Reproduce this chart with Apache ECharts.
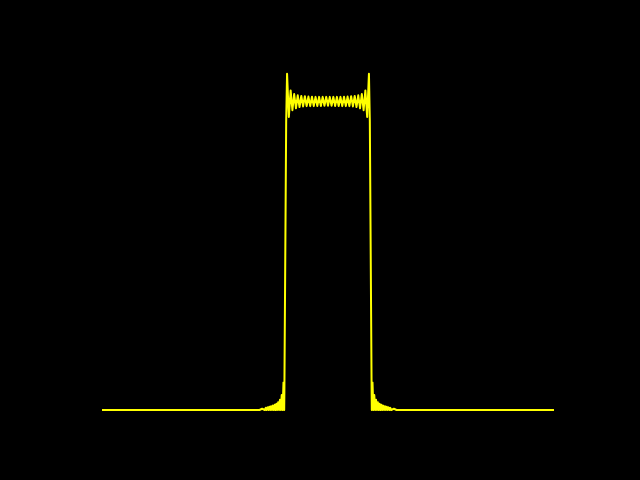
<!DOCTYPE html>
<html>
<head>
<meta charset="utf-8">
<script src="https://cdn.jsdelivr.net/npm/echarts@6/dist/echarts.min.js"></script>
<style>
html,body{margin:0;padding:0;background:#000;}
#chart{width:640px;height:480px;}
</style>
</head>
<body>
<div id="chart"></div>
<script>
// Horizontal positions (pixel-like units relative to the centre of the pulse)
const xValues = [
  -226, -68.53, -67.64, -66.75, -65.86, -64.97, -64.08, -63.19, -62.30, -61.41,
  -60.52, -59.63, -58.74, -57.85, -56.96, -56.07, -55.18, -54.29, -53.40, -52.51,
  -51.62, -50.73, -49.84, -48.95, -48.06, -47.17, -46.28, -45.39, -44.50, -43.81,
  -43.61, -42.72, -41.83,
  -40.94, -39.16, -37.38, -35.60, -33.82, -32.04, -30.26, -28.48, -26.70, -24.92,
  -23.14, -21.36, -19.58, -17.80, -16.02, -14.24, -12.46, -10.68, -8.90, -7.12,
  -5.34, -3.56, -1.78, 0, 1.78, 3.56, 5.34, 7.12, 8.90, 10.68,
  12.46, 14.24, 16.02, 17.80, 19.58, 21.36, 23.14, 24.92, 26.70, 28.48,
  30.26, 32.04, 33.82, 35.60, 37.38, 39.16, 40.94,
  41.83, 42.72, 43.61, 43.81, 44.50, 45.39, 46.28, 47.17, 48.06, 48.95,
  49.84, 50.73, 51.62, 52.51, 53.40, 54.29, 55.18, 56.07, 56.96, 57.85,
  58.74, 59.63, 60.52, 61.41, 62.30, 63.19, 64.08, 64.97, 65.86, 66.75,
  67.64, 68.53, 226
];

// Signal amplitude (0 = baseline, 1 = plateau)
const yValues = [
  0, 0, 0.0025, 0, 0.0040, 0, 0.0055, 0, 0.0070, 0,
  0.0085, 0, 0.0105, 0, 0.0122, 0, 0.0142, 0, 0.0168, 0,
  0.0201, 0, 0.0249, 0, 0.0330, 0, 0.0486, 0, 0.0895, 0,
  0.064, 0.5, 0.936,
  1.090, 0.950, 1.036, 0.972, 1.024, 0.978, 1.020, 0.982, 1.018, 0.984,
  1.017, 0.985, 1.016, 0.985, 1.0155, 0.985, 1.015, 0.9855, 1.015, 0.9855,
  1.015, 0.986, 1.015, 0.986, 1.015, 0.986, 1.015, 0.9855, 1.015, 0.9855,
  1.015, 0.985, 1.0155, 0.985, 1.016, 0.985, 1.017, 0.984, 1.018, 0.982,
  1.020, 0.978, 1.024, 0.972, 1.036, 0.950, 1.090,
  0.936, 0.5, 0.064, 0, 0.0895, 0, 0.0486, 0, 0.0330, 0,
  0.0249, 0, 0.0201, 0, 0.0168, 0, 0.0142, 0, 0.0122, 0,
  0.0105, 0, 0.0085, 0, 0.0070, 0, 0.0055, 0, 0.0040, 0,
  0.0025, 0, 0
];

const seriesData = xValues.map((x, i) => [x, yValues[i]]);

const chart = echarts.init(document.getElementById('chart'), null, {renderer: 'canvas'});
chart.setOption({
  backgroundColor: '#000000',
  animation: false,
  grid: {left: 102, right: 86, top: 70.65, bottom: 70},
  xAxis: {
    type: 'value', min: -226, max: 226,
    show: false
  },
  yAxis: {
    type: 'value', min: 0, max: 1.1,
    show: false
  },
  series: [{
    type: 'line',
    data: seriesData,
    showSymbol: false,
    symbol: 'none',
    clip: false,
    lineStyle: {color: '#ffff00', width: 2, join: 'round', cap: 'butt'}
  }]
});
</script>
</body>
</html>
